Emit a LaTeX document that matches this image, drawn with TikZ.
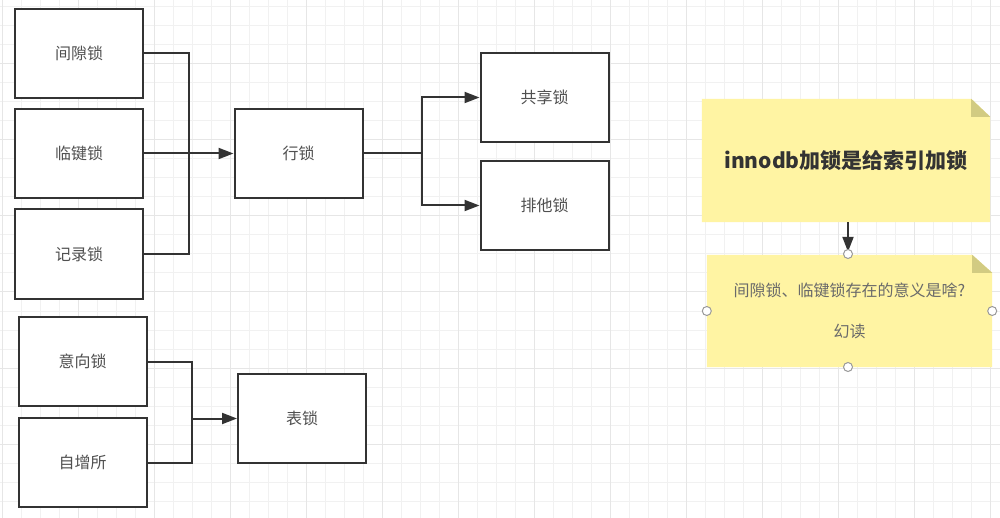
\documentclass[tikz,border=0pt]{standalone}
\usepackage{fontspec}
\newfontfamily\cjk{Noto Sans CJK SC}
\usetikzlibrary{arrows.meta,backgrounds}
\definecolor{lineC}{HTML}{333333}
\definecolor{txtC}{HTML}{505050}
\definecolor{noteY}{HTML}{FFF4A3}
\definecolor{foldY}{HTML}{D2CB82}
\definecolor{gridMinor}{HTML}{F1F1F1}
\definecolor{gridMajor}{HTML}{E6E6E6}
\tikzset{
  lockbox/.style={draw=lineC, line width=2pt, fill=white, minimum width=128pt, minimum height=89pt, inner sep=0pt, font=\cjk\fontsize{16}{19}\selectfont, text=txtC},
  conn/.style={draw=lineC, line width=2pt},
  arr/.style={conn, -{Triangle[length=15pt,width=11pt]}},
  notebox/.style={inner sep=0pt, align=center},
  handle/.style={circle, draw=gray!80, fill=white, line width=1pt, minimum size=9pt, inner sep=0pt}
}
\begin{document}
\begin{tikzpicture}[x=1pt,y=-1pt]
\useasboundingbox (0,0) rectangle (1000,518);
\begin{scope}[on background layer]
  \fill[white] (0,0) rectangle (1000,518);
  \foreach \i in {0,...,52} {\draw[gridMinor, line width=1pt] ({2+19*\i},0) -- ({2+19*\i},518);}
  \foreach \i in {0,...,27} {\draw[gridMinor, line width=1pt] (0,{7+19*\i}) -- (1000,{7+19*\i});}
  \foreach \i in {0,...,13} {\draw[gridMajor, line width=1pt] ({2+76*\i},0) -- ({2+76*\i},518);}
  \foreach \i in {-1,...,6} {\draw[gridMajor, line width=1pt] (0,{64+76*\i}) -- (1000,{64+76*\i});}
\end{scope}

% row locks
\node[lockbox] (gap) at (79,53.5) {间隙锁};
\node[lockbox] (nk)  at (79,153.5) {临键锁};
\node[lockbox] (rec) at (79,254) {记录锁};
\node[lockbox] (row) at (298.5,153.5) {行锁};
\node[lockbox] (sh)  at (544.5,97.5) {共享锁};
\node[lockbox] (ex)  at (544.5,205.5) {排他锁};
% table locks
\node[lockbox] (int) at (82.5,361.5) {意向锁};
\node[lockbox] (ai)  at (82.5,462.5) {自增所};
\node[lockbox] (tab) at (302,418.5) {表锁};

\coordinate (j1) at (189,153.5);
\coordinate (j2) at (421.5,153.5);
\coordinate (j3) at (192,418.5);

\draw[conn] (gap.east) -| (j1) |- (rec.east);
\draw[arr] (nk.east) -- (row.west);
\draw[conn] (row.east) -- (j2);
\draw[arr] (j2) |- (sh.west);
\draw[arr] (j2) |- (ex.west);
\draw[conn] (int.east) -| (j3) |- (ai.east);
\draw[arr] (j3) -- (tab.west);

% notes
\node[notebox, minimum width=288pt, minimum height=123pt, font=\cjk\bfseries\fontsize{21}{25}\selectfont, text=lineC] (n1) at (846,160.5) {innodb加锁是给索引加锁};
\node[notebox, minimum width=285pt, minimum height=112pt, font=\cjk\fontsize{16}{19}\selectfont, text=txtC!85] (n2) at (849.5,311) {间隙锁、临键锁存在的意义是啥?\\[22pt]幻读};

\begin{scope}[on background layer]
  \fill[noteY] (n1.north west) -- ([xshift=-19pt]n1.north east) -- ([yshift=-18pt]n1.north east) -- (n1.south east) -- (n1.south west) -- cycle;
  \fill[foldY] ([xshift=-19pt]n1.north east) -- ([xshift=-19pt,yshift=-18pt]n1.north east) -- ([yshift=-18pt]n1.north east) -- cycle;
  \fill[noteY] (n2.north west) -- ([xshift=-20pt]n2.north east) -- ([yshift=-18pt]n2.north east) -- (n2.south east) -- (n2.south west) -- cycle;
  \fill[foldY] ([xshift=-20pt]n2.north east) -- ([xshift=-20pt,yshift=-18pt]n2.north east) -- ([yshift=-18pt]n2.north east) -- cycle;
\end{scope}

\draw[arr, shorten >=3pt] (n1.south -| 848,0) -- (848,0 |- n2.north);

\node[handle] (h1) at (848,254) {};
\node[handle] (h2) at (n2.west) {};
\node[handle] (h3) at (n2.east) {};
\node[handle] (h4) at (848,367) {};
\end{tikzpicture}
\end{document}
